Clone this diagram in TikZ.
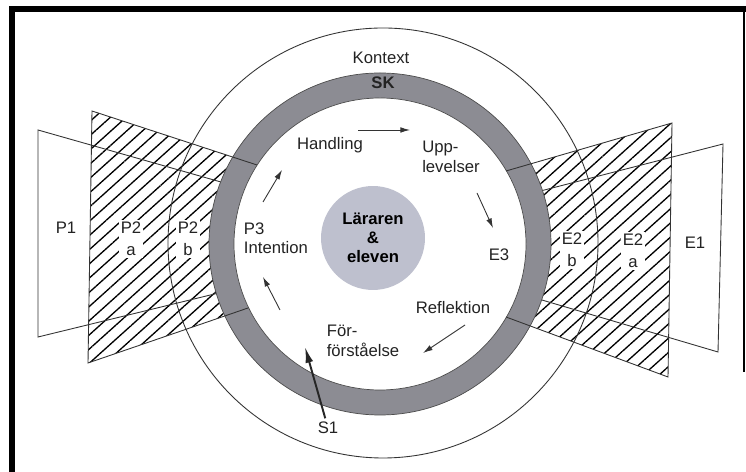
\documentclass[tikz,border=0pt]{standalone}
\usepackage{fontspec}
\setmainfont{Liberation Sans}
\usetikzlibrary{arrows.meta,patterns.meta}
\definecolor{ringgray}{RGB}{140,140,147}
\definecolor{discgray}{RGB}{190,192,206}
\definecolor{txtgray}{RGB}{35,35,35}

\begin{document}
\begin{tikzpicture}[x=0.02cm, y=0.02cm,
  lbl/.style={font=\fontsize{9.5}{11}\selectfont, text=txtgray, align=left, inner sep=1pt},
  plbl/.style={font=\fontsize{9.5}{12.5}\selectfont, text=txtgray, align=center, fill=white, inner sep=1pt},
  hatch/.style={pattern={Lines[angle=42,distance=6pt,line width=0.75pt]}},
  planeedge/.style={line width=0.5pt, black!80},
  cyc/.style={line width=0.5pt, black!80, -{Latex[length=5.5pt,width=3.2pt]}}]
  \useasboundingbox (0,0) rectangle (746,472);
  \fill[white] (0,0) rectangle (746,472);
  \draw[line width=3.4pt] (12,0) -- (12,463) -- (746,463);
  \draw[line width=0.8pt] (744,463) -- (744,100);

  \coordinate (c) at (380,228);
  \coordinate (k) at (383,229);

  \coordinate (p1tl) at (38,342);  \coordinate (p1bl) at (38,135);
  \coordinate (p1tr) at (235,286); \coordinate (p1br) at (235,183);
  \coordinate (p2tl) at (92,361);  \coordinate (p2bl) at (88,109);
  \coordinate (p2tr) at (257,307); \coordinate (p2br) at (248,164);
  \coordinate (e2tr) at (672,349); \coordinate (e2br) at (668,95);
  \coordinate (e2tl) at (506,301); \coordinate (e2bl) at (506,155);
  \coordinate (e1tr) at (723,328); \coordinate (e1br) at (718,120);
  \coordinate (e1tl) at (525,277); \coordinate (e1bl) at (525,177);

  \fill[hatch] (p2tl) -- (p2bl) -- (p2br) -- (p2tr) -- cycle;
  \fill[hatch] (e2tr) -- (e2br) -- (e2bl) -- (e2tl) -- cycle;
  \draw[planeedge] (p1tr) -- (p1tl) -- (p1bl) -- (p1br);
  \draw[planeedge] (e1tl) -- (e1tr) -- (e1br) -- (e1bl);
  \draw[planeedge] (k) circle (215);

  \fill[ringgray, draw=black!70, line width=0.4pt] (c) circle (171);
  \fill[white, draw=black!70, line width=0.4pt] (c) circle (146);
  \draw[planeedge] (p2tr) -- (p2tl) -- (p2bl) -- (p2br);
  \draw[planeedge] (e2tl) -- (e2tr) -- (e2br) -- (e2bl);

  \node[circle, fill=discgray, minimum size=2.08cm, inner sep=0pt, align=center, text=black,
    font=\fontsize{9.5}{10.8}\selectfont\bfseries] (centre) at (373,234) {Läraren\\\&\\eleven};

  \node[lbl] (kontext) at (381,414) {Kontext};
  \node[lbl, font=\fontsize{9.5}{11}\selectfont\bfseries] (sk) at (383,389) {SK};
  \node[lbl] (handling) at (330,327) {Handling};
  \node[lbl] (upp) at (451,315) {Upp-\\levelser};
  \node[lbl] (e3) at (499,217) {E3};
  \node[lbl] (refl) at (453,164) {Reflektion};
  \node[lbl] (forf) at (363,131) {För-\\förståelse};
  \node[lbl] (p3) at (276,234) {P3\\Intention};
  \node[lbl] (s1) at (328,44) {S1};
  \node[lbl] (p1) at (66,244) {P1};
  \node[plbl] (p2a) at (131,233) {P2\\a};
  \node[plbl] (p2b) at (188,233) {P2\\b};
  \node[plbl] (e2b) at (572,222) {E2\\b};
  \node[plbl] (e2a) at (633,221) {E2\\a};
  \node[lbl] (e1) at (695,229) {E1};

  \coordinate (hu1) at (358,342); \coordinate (hu2) at (410,342);
  \coordinate (ue1) at (477,279); \coordinate (ue2) at (493,244);
  \coordinate (rf1) at (465,147); \coordinate (rf2) at (423,119);
  \coordinate (fp1) at (280,162); \coordinate (fp2) at (263,195);
  \coordinate (ph1) at (263,270); \coordinate (ph2) at (282,302);
  \coordinate (s1tip) at (305,125);

  \draw[cyc] (hu1) -- (hu2);
  \draw[cyc] (ue1) -- (ue2);
  \draw[cyc] (rf1) -- (rf2);
  \draw[cyc] (fp1) -- (fp2);
  \draw[cyc] (ph1) -- (ph2);
  \draw[line width=1.1pt, black!85, -{Latex[length=9pt,width=4.5pt]}, shorten <=1pt] (s1) -- (s1tip);
\end{tikzpicture}
\end{document}
